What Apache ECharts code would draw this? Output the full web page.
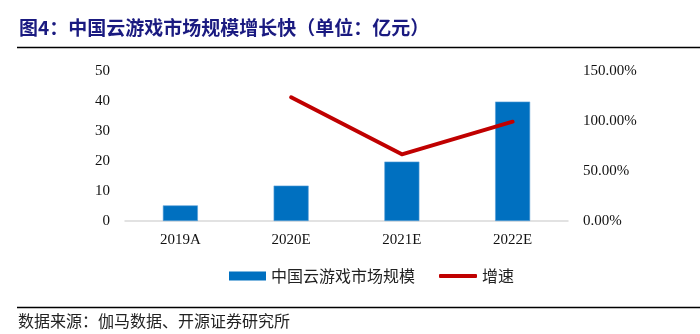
<!DOCTYPE html>
<html>
<head>
<meta charset="utf-8">
<script src="https://cdn.jsdelivr.net/npm/echarts@6/dist/echarts.min.js"></script>
<style>
  html, body { margin: 0; padding: 0; background: #fff; }
  #chart { width: 700px; height: 334px; }
</style>
</head>
<body>
<div id="chart"></div>
<script>
// Market size (亿元) and year-on-year growth (%)
const categories = ['2019A', '2020E', '2021E', '2022E'];
const marketSize = [5.2, 11.8, 19.8, 39.8];
const growthRate = [null, 123.7, 66.7, 99.3];
const leftTicks = { min: 0, max: 50, interval: 10 };
const rightTicks = { min: 0, max: 150, interval: 50 };

const serif = '"Liberation Serif", "Times New Roman", serif';
const cjk = '"Noto Sans CJK SC", sans-serif';
const legendText = { fontFamily: cjk, fontSize: 16, color: '#222' };

const chart = echarts.init(document.getElementById('chart'), null, { renderer: 'canvas' });

chart.setOption({
  backgroundColor: '#ffffff',
  animation: false,
  graphic: [
    {
      type: 'text', left: 19, top: 18,
      style: {
        text: '图4：中国云游戏市场规模增长快（单位：亿元）',
        font: 'bold 19px ' + cjk, fill: '#1a1a80'
      }
    },
    { type: 'line', shape: { x1: 17, y1: 47.5, x2: 700, y2: 47.5 }, style: { stroke: '#000', lineWidth: 1.3 } },
    { type: 'line', shape: { x1: 17, y1: 307.5, x2: 700, y2: 307.5 }, style: { stroke: '#000', lineWidth: 1.3 } },
    {
      type: 'text', left: 18, top: 313,
      style: { text: '数据来源：伽马数据、开源证券研究所', font: '16px ' + cjk, fill: '#222' }
    }
  ],
  legend: [
    {
      left: 229, top: 268, padding: 0,
      itemWidth: 37, itemHeight: 9,
      textStyle: legendText,
      itemStyle: { borderWidth: 0 },
      data: [{ name: '中国云游戏市场规模', icon: 'rect' }]
    },
    {
      left: 439, top: 268, padding: 0,
      itemWidth: 38, itemHeight: 4,
      textStyle: legendText,
      data: [{ name: '增速', icon: 'roundRect' }]
    }
  ],
  grid: { left: 125, right: 132, top: 71, bottom: 113, containLabel: false },
  xAxis: {
    type: 'category',
    data: categories,
    axisLine: { lineStyle: { color: '#d9d9d9', width: 1.5 } },
    axisTick: { show: false },
    axisLabel: { fontFamily: serif, fontSize: 15, color: '#111', margin: 12 }
  },
  yAxis: [
    {
      type: 'value', position: 'left',
      min: leftTicks.min, max: leftTicks.max, interval: leftTicks.interval,
      axisLine: { show: false }, axisTick: { show: false }, splitLine: { show: false },
      axisLabel: { fontFamily: serif, fontSize: 15, color: '#111', margin: 15 }
    },
    {
      type: 'value', position: 'right',
      min: rightTicks.min, max: rightTicks.max, interval: rightTicks.interval,
      axisLine: { show: false }, axisTick: { show: false }, splitLine: { show: false },
      axisLabel: {
        fontFamily: serif, fontSize: 15, color: '#111', margin: 15,
        formatter: v => v.toFixed(2) + '%'
      }
    }
  ],
  series: [
    {
      name: '中国云游戏市场规模',
      type: 'bar',
      data: marketSize,
      barWidth: 35,
      itemStyle: { color: '#0070c0', borderColor: '#5a9fd6', borderWidth: 0.6 }
    },
    {
      name: '增速',
      type: 'line',
      yAxisIndex: 1,
      data: growthRate,
      symbol: 'none',
      lineStyle: { color: '#c00000', width: 4, cap: 'round', join: 'round' },
      itemStyle: { color: '#c00000' }
    }
  ]
});
</script>
</body>
</html>
